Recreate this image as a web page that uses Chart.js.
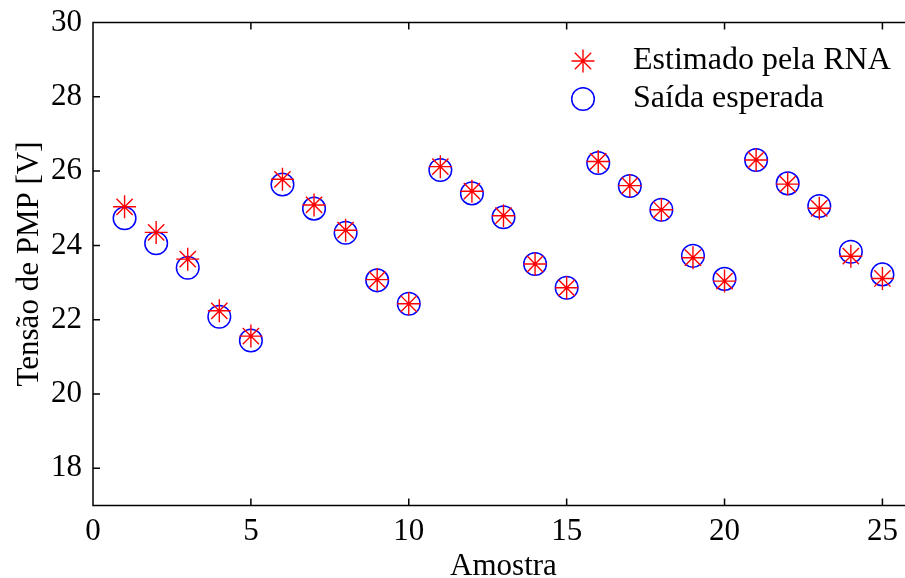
<!DOCTYPE html>
<html>
<head>
<meta charset="utf-8">
<script src="https://cdn.jsdelivr.net/npm/chart.js@4"></script>
<style>
	html, body { margin: 0; padding: 0; background: #fff; overflow: hidden; width: 905px; height: 578px; }
	canvas { display: block; }
</style>
</head>
<body>
<canvas id="pmpChart" width="915" height="578"></canvas>
<script>
const amostras = [1, 2, 3, 4, 5, 6, 7, 8, 9, 10, 11, 12, 13, 14, 15, 16, 17, 18, 19, 20, 21, 22, 23, 24, 25];
const estimadoRNA = [25.04, 24.35, 23.63, 22.24, 21.56, 25.78, 25.09, 24.41, 23.08, 22.43, 26.12, 25.46, 24.80, 23.50, 22.86, 26.26, 25.61, 24.96, 23.67, 23.04, 26.30, 25.65, 25.00, 23.71, 23.11];
const saidaEsperada = [24.73, 24.06, 23.40, 22.08, 21.44, 25.64, 24.99, 24.34, 23.06, 22.43, 26.03, 25.40, 24.76, 23.50, 22.86, 26.22, 25.60, 24.96, 23.72, 23.10, 26.30, 25.67, 25.06, 23.83, 23.22];
const legendLabels = ['Estimado pela RNA', 'Saída esperada'];
const xTicks = [0, 5, 10, 15, 20, 25];
const yTicks = [18, 20, 22, 24, 26, 28, 30];

const FONT = 'Liberation Serif, Times New Roman, serif';

function toPoints(ys) {
	return amostras.map((x, i) => ({ x: x, y: ys[i] }));
}

// no extra room for the end labels, the box is fixed by layout padding
function noPadding(s) {
	s.paddingLeft = 0;
	s.paddingRight = 0;
	s.paddingTop = 0;
	s.paddingBottom = 0;
}

// caixa, marcas internas e legenda no estilo do MATLAB
const framePlugin = {
	id: 'frame',
	afterDraw(chart) {
		const ctx = chart.ctx;
		const a = chart.chartArea;
		const xs = chart.scales.x;
		const ys = chart.scales.y;
		ctx.save();
		ctx.strokeStyle = '#000';
		ctx.lineWidth = 1.5;
		ctx.beginPath();
		ctx.rect(a.left, a.top, a.right - a.left, a.bottom - a.top);
		xTicks.forEach(v => {
			const px = xs.getPixelForValue(v);
			ctx.moveTo(px, a.bottom);
			ctx.lineTo(px, a.bottom - 7);
			ctx.moveTo(px, a.top);
			ctx.lineTo(px, a.top + 7);
		});
		yTicks.forEach(v => {
			const py = ys.getPixelForValue(v);
			ctx.moveTo(a.left, py);
			ctx.lineTo(a.left + 7, py);
			ctx.moveTo(a.right, py);
			ctx.lineTo(a.right - 7, py);
		});
		ctx.stroke();

		// legenda
		const mx = 583;
		const tx = 633;
		const rows = [61, 99];
		chart.data.datasets.forEach((ds, i) => {
			ctx.strokeStyle = ds.borderColor;
			ctx.fillStyle = 'rgba(0,0,0,0)';
			ctx.lineWidth = ds.borderWidth;
			Chart.helpers.drawPoint(ctx, {
				pointStyle: ds.pointStyle,
				radius: ds.pointRadius,
				borderWidth: ds.borderWidth,
				rotation: 0
			}, mx, rows[i]);
			ctx.fillStyle = '#000';
			ctx.font = '32px ' + FONT;
			ctx.textBaseline = 'middle';
			ctx.textAlign = 'left';
			ctx.fillText(legendLabels[i], tx, rows[i]);
		});
		ctx.restore();
	}
};

const ctx = document.getElementById('pmpChart').getContext('2d');
new Chart(ctx, {
	type: 'scatter',
	data: {
		datasets: [
			{
				label: legendLabels[0],
				data: toPoints(estimadoRNA),
				pointStyle: 'star',
				pointRadius: 11.5,
				borderWidth: 1.4,
				borderColor: '#ff0000',
				backgroundColor: 'rgba(0,0,0,0)',
			},
			{
				label: legendLabels[1],
				data: toPoints(saidaEsperada),
				pointStyle: 'circle',
				pointRadius: 11.3,
				borderWidth: 1.5,
				borderColor: '#0000ff',
				backgroundColor: 'rgba(0,0,0,0)',
			},
		],
	},
	options: {
		responsive: false,
		animation: false,
		// canvas is a bit wider than the window: the right side of the box falls outside
		layout: { autoPadding: false, padding: { top: 22.5, right: 1, left: 0, bottom: 0 } },
		plugins: {
			legend: { display: false },
			tooltip: { enabled: false },
		},
		scales: {
			x: {
				type: 'linear',
				min: 0,
				max: 26,
				afterBuildTicks: s => { s.ticks = xTicks.map(v => ({ value: v })); },
				afterFit: s => { s.height = 72.5; noPadding(s); },
				grid: { display: false, drawTicks: false },
				border: { display: false },
				ticks: {
					color: '#000',
					padding: 8,
					maxRotation: 0,
					font: { family: FONT, size: 31 },
				},
				title: {
					display: true,
					text: 'Amostra',
					color: '#000',
					font: { family: FONT, size: 31, lineHeight: 0.75 },
					padding: 0,
				},
			},
			y: {
				type: 'linear',
				min: 17,
				max: 30,
				afterBuildTicks: s => { s.ticks = yTicks.map(v => ({ value: v })); },
				afterFit: s => { s.width = 93; noPadding(s); },
				grid: { display: false, drawTicks: false },
				border: { display: false },
				ticks: {
					color: '#000',
					padding: 11,
					font: { family: FONT, size: 31 },
				},
				title: {
					display: true,
					text: 'Tensão de PMP [V]',
					color: '#000',
					font: { family: FONT, size: 31, lineHeight: 1 },
					padding: { top: 14, bottom: 0 },
				},
			},
		},
	},
	plugins: [framePlugin],
});
</script>
</body>
</html>
